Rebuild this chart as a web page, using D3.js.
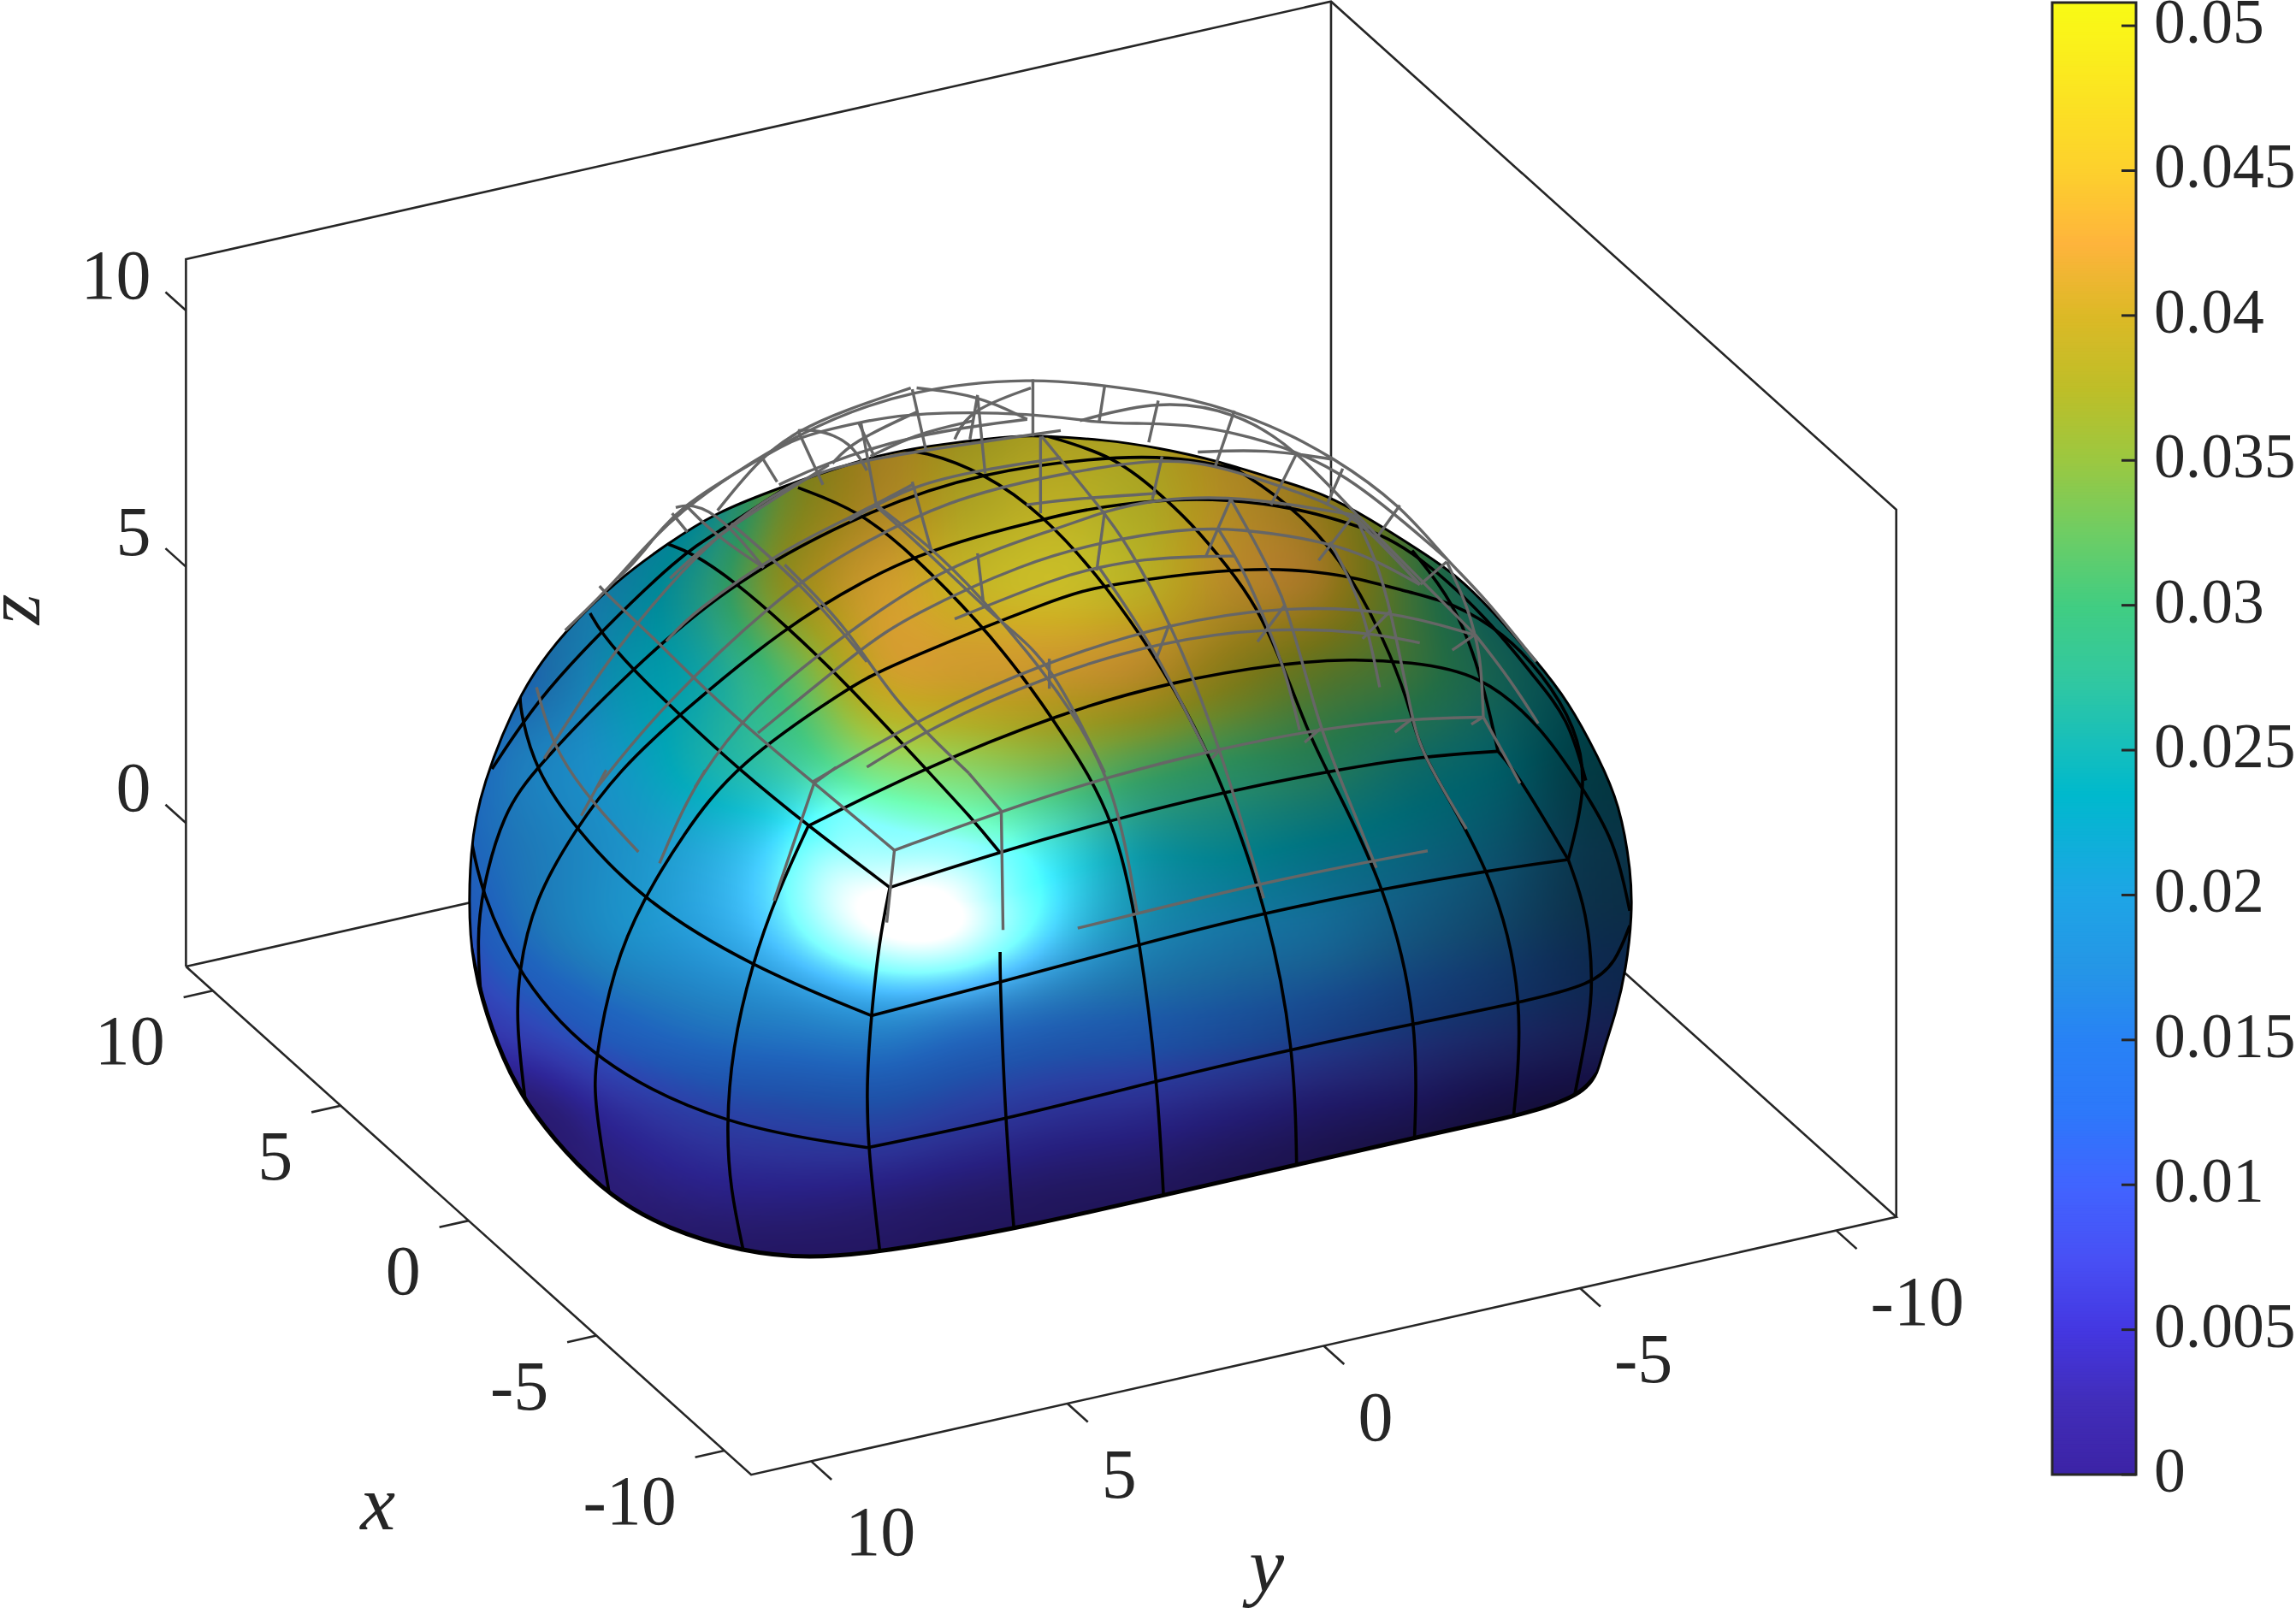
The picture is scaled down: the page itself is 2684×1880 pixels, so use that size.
<!DOCTYPE html>
<html>
<head>
<meta charset="utf-8">
<script src="https://cdn.jsdelivr.net/npm/d3@7"></script>
<style>
body { margin: 0; background: #fff; }
svg { display: block; }
text { font-family: "Liberation Serif", serif; fill: #262626; }
</style>
</head>
<body>
<div class="chart"></div>
<script>
// axis limits and ticks
const xLimits = [-11.05, 11.05];
const yLimits = [-11.17, 11.17];
const zLimits = [-2.8, 11];
const xTicks = [10, 5, 0, -5, -10];
const yTicks = [10, 5, 0, -5, -10];
const zTicks = [10, 5, 0];
const colorbarLimits = [0, 0.0508];
const colorbarTicks = [0, 0.005, 0.01, 0.015, 0.02, 0.025, 0.03, 0.035, 0.04, 0.045, 0.05];
const colorbarLabels = ["0", "0.005", "0.01", "0.015", "0.02", "0.025", "0.03", "0.035", "0.04", "0.045", "0.05"];

// colormap
const colorStops = [0, .0025, .005, .0075, .01, .0125, .015, .0175, .02, .0235, .025, .0275, .03, .0325, .035, .0375, .04, .0425, .045, .0508];
const colorValues = ["#3c23a5", "#412db9", "#4437e1", "#4850f5", "#4164ff", "#2d78fa", "#2882f5", "#2596e6", "#1ea5e6", "#00b9cd", "#14bebe", "#32c8a0", "#41cd82", "#6ecd64", "#9bc841", "#bebe28", "#dcb926", "#feb43c", "#fdd02d", "#f9fb15"];

// surface shading, sampled on a coarse grid of the projected picture
// (all surface positions below are in view units, as read off the 1568x1098 view)
const shadeCols = [300, 360, 420, 480, 540, 600, 660, 720, 780, 840, 900, 960, 1020, 1080, 1140];
const shadeRows = [280, 340, 400, 460, 520, 580, 640, 700, 760, 820, 880];
const surfaceValue = [
  [.021,.021,.021,.027,.036,.041,.0385,.0385,.039,.041,.04,.033,.025,.024,.024],
  [.021,.021,.021,.024,.036,.041,.0385,.0385,.038,.041,.04,.033,.025,.024,.024],
  [.016,.018,.021,.027,.038,.0415,.039,.0385,.0385,.0415,.0415,.033,.025,.024,.024],
  [.014,.016,.022,.025,.032,.0405,.0415,.0415,.0415,.0385,.035,.032,.027,.024,.024],
  [.014,.018,.021,.025,.028,.033,.034,.034,.032,.03,.029,.026,.024,.023,.023],
  [.014,.0175,.02,.021,.022,.025,.027,.025,.024,.024,.023,.022,.021,.02,.02],
  [.0095,.016,.0195,.0195,.02,.021,.021,.021,.0205,.0195,.019,.018,.017,.016,.016],
  [.005,.0095,.014,.0165,.017,.0175,.016,.015,.0145,.014,.013,.012,.011,.01,.01],
  [.001,.001,.006,.0095,.011,.0115,.0095,.0075,.0065,.0055,.0045,.004,.003,.002,.002],
  [0,0,.0015,.0035,.004,.0035,.0025,.002,.0015,.001,.0005,0,0,0,0],
  [0,0,0,0,0,0,0,0,0,0,0,0,0,0,0]
];
const surfaceLight = [
  [.7,.7,.7,.6,.62,.68,.75,.82,.82,.7,.65,.55,.45,.38,.33],
  [.7,.7,.7,.7,.68,.72,.85,.92,.88,.75,.65,.55,.45,.38,.33],
  [.72,.72,.72,.75,.75,.85,.95,1,.92,.75,.65,.55,.45,.38,.33],
  [.72,.72,.8,.85,.9,.88,.85,.82,.75,.65,.58,.55,.48,.38,.33],
  [.75,.82,.87,.9,.95,1,.95,.85,.75,.68,.6,.55,.5,.33,.3],
  [.75,.8,.85,.9,.95,1,1,.95,.75,.68,.62,.57,.48,.33,.3],
  [.72,.78,.85,.9,.93,1,1,.88,.75,.7,.65,.55,.45,.33,.3],
  [.72,.72,.76,.8,.83,.85,.78,.72,.68,.62,.55,.47,.4,.33,.3],
  [.65,.65,.65,.65,.65,.65,.62,.6,.58,.52,.46,.4,.33,.3,.3],
  [.65,.65,.65,.62,.6,.58,.55,.52,.5,.45,.4,.33,.33,.3,.3],
  [.55,.55,.55,.55,.55,.55,.5,.5,.45,.4,.35,.33,.3,.3,.3]
];
// specular spots: centre u, centre v, radius u, radius v, strength
const glareSpots = [
  [628, 626, 64, 36, 0.85],
  [622, 600, 112, 60, 0.36],
  [570, 590, 34, 42, 0.25]
];

const outlinePoints = [
  [320.8,579.5],[320,642],[327.9,682],[343.5,725],[359,754],[385,787],[416.5,817.6],[455.6,840],[507.8,855.6],[552,860],
  [601.7,855.6],[693,840],[794.6,816.7],[885.5,796],[966.5,777.4],[1033.6,763],[1056,756.7],[1074,749.7],[1084,742.8],[1091,733.5],
  [1095,717],[1103.5,692],[1110.5,662],[1114.7,625],[1114,595],[1106,548.8],[1092,518],[1071.3,479],[1048,449.8],[1019,416.7],
  [993,391.4],[969.6,375.9],[935.7,354.4],[904.4,336.9],[870.5,327.2],[831.4,314.5],[792,305.8],[753,300],[711.4,297.6],[693.7,297.6],
  [654.5,301.9],[602.4,308.7],[532,333],[487.6,350.5],[456.3,371],[422.4,395.3],[386,430.4],[356,469.3],[328.5,537.5]
];

const blackLines = [
  [[607.7,606],[600.4,642],[595,693.5],[591.8,738],[592.6,783],[601,855.6]],
  [[552,564],[531.3,608.5],[513,660],[500,716],[496,769.5],[498.7,812],[508,855.6]],
  [[552,564],[627.8,525.8],[724.4,486.8],[800,465.4],[875.7,452.8],[922.7,450],[961.8,451.8],[1011.4,459.6],[1053,496.6],[1079,535.5],[1103,574],[1113,622]],
  [[416.5,817.6],[406,754],[406,725],[419,660],[438.7,615],[466,570.5],[502,522],[580.2,469.3],[602.4,456.7],[724.4,407],[755.8,399.2],[836.6,388.5],[883.6,388.5],[922.7,393.4],[964.4,405],[993,411.9],[1027,432.3],[1053,459.6],[1076.6,496.6],[1084,537],[1071,587]],
  [[359,754],[352.6,700],[354,664.4],[364.4,615],[393,566],[423,525.8],[465,486.8],[537,427.4],[592,395.3],[625.8,379.7],[667.6,366],[706.7,356.4],[735,348.6],[792,340.8],[839,340.8],[883.6,346.6],[922.7,357.4],[961.8,372],[1019,425],[1048,463],[1071,490],[1083,533]],
  [[328.4,680],[325.8,642],[329,608.5],[343.5,555],[366,524],[431.6,456.6],[500.7,396.3],[598.5,345.7],[672.8,322.3],[748,312.6],[792,311.6],[823.6,315.5],[847,321.3]],
  [[336,525],[367.7,477],[409.4,432.3],[464,379.7],[489,364],[537,333]],
  [[607.7,606],[682.5,581.7],[762.5,559],[836.6,540.7],[906.4,526.8],[970,516.5],[1023,513]],
  [[1023,513],[1036,528],[1071,587]],
  [[964.4,375.9],[993,410.9],[1011.4,459.6],[1023,513]],
  [[595,693.5],[683,670.7],[779,644.6],[866,622.7],[946.9,606.5],[1019.6,594],[1071,587]],
  [[592.6,783.6],[686.5,764.4],[790.4,738],[884,716],[968.8,698.5],[1040.6,684],[1087,672.4],[1103.5,657],[1113,632]],
  [[607.7,606],[552,564],[505,525.8],[463,487],[431.5,456.6],[410.7,432.3],[403,418.7]],
  [[595,693.5],[513,660],[438.7,615],[393,566],[365.7,525.8],[356,488.8],[354.6,473],[357,467.4]],
  [[592.6,783.6],[496,769.5],[406,725.9],[354,666.7],[328.4,608.5],[321.3,570.5]],
  [[682.5,581.7],[664,559],[631,523.8],[580.7,469.3],[537,427.4],[500.7,396.3],[473.3,377.8],[456.3,371.6]],
  [[683,650],[683,670.7],[686.5,764],[692.5,840]],
  [[545,333],[586.7,348.6],[624.5,379.7],[670,426.5],[696,458.6],[724.4,498.5],[762.5,559],[779,644.6],[790.4,738],[794.6,816.7]],
  [[608,307],[630.6,307.7],[672.8,323.3],[711.4,350.5],[755.8,399.2],[800,465.4],[823.6,512],[836.6,540.7],[866,622.7],[884,716],[885.5,796]],
  [[716,298],[761,311.6],[789.7,335],[813,356.4],[839,387.5],[857.5,412.8],[875.7,452.8],[892.7,498.5],[906.4,526.8],[947,606.5],[968.8,698.5],[966,777.4]],
  [[831.4,314.5],[847,321.3],[888.8,350.5],[922.7,391.4],[951.4,449.8],[964.4,488.8],[971,517],[1019.6,594],[1041.4,684],[1033.6,763]],
  [[1071,587],[1084,622.7],[1088,671],[1085,699],[1075,749.7]]
];

const grayLines = [
  // front corner and its edges
  [[610.8,580.6],[605.6,630]],
  [[610.8,580.6],[556,534.7],[521.5,506.3],[479.8,469.3],[451,440],[414.6,406],[409.4,400.2]],
  [[610.8,580.6],[683.8,553.8],[761,529],[834,511],[901.8,497.5],[964.4,490.7],[1012.6,489.7]],
  [[683.8,553.8],[684.5,600],[685,635]],
  [[661.7,528],[683.8,553.8]],
  [[556,534.7],[528.6,615]],
  [[556,534.7],[571,524]],
  [[736,633.8],[776.5,623.8],[861.7,603],[938.6,587.6],[975,581]],
  // left side
  [[366.4,469.3],[372,490],[381,515],[403.5,547],[436,581.7]],
  [[481.7,525.8],[466,552.6],[450.4,589.5]],
  [[414,525.8],[397,557]],
  // across the top
  [[592,523.8],[636,496.6],[714.5,461.5],[792,438.2],[865,428.4],[933,431.3],[969.6,439]],
  [[555.4,533.6],[631,488.8],[714.5,451.8],[798.8,425.5],[877,413.8],[950,416.7],[1006,433.3]],
  [[371.6,518],[419.8,442],[487.6,364],[545,327],[586.7,313.5],[724.4,294]],
  [[408,537.5],[451,483],[532,407],[576,377.8],[646.7,340.8],[724.4,323.3],[792,312.6],[831.4,317.4],[889,337],[925,350.5],[969.6,399.2]],
  [[474.6,537.5],[506,488.8],[580,430.4],[646.7,385.6],[724.4,360.3],[755.8,348.6],[789.7,340.8],[839,338.9],[883.6,344.7],[924,351.5]],
  [[517.6,500.5],[589,442],[620.6,420.6],[701,383.6],[753,370],[805.3,361.2],[844.4,360.3],[907,370],[938.3,381.7],[969.6,399.2]],
  [[652,422.6],[724.4,393.4],[750.6,387.5],[779,381.7],[823.6,379.7],[843,379.7]],
  [[580,355.4],[623,331],[672.8,320.4],[724.4,312.6]],
  [[457.6,395],[487.6,366],[566,317.4]],
  [[455,438],[472,418.7],[537,373.9],[579,354.4],[623,331]],
  // cage above the surface
  [[386,430.4],[422.4,395.3],[459,350.5],[545,294],[623,264.9],[706.7,258],[753,263],[815.8,271.7],[868,290],[909.6,311.6],[956.6,344.7],[988,382.7],[1011.4,405],[1049,451.8]],
  [[422,395],[438,379.7],[461.5,346.6],[522,311.6],[545,298],[588,288],[626,281.4],[706.7,282],[750.6,289],[779,289],[818,290.2],[862.7,300],[917.5,320.4],[988,381.7]],
  [[490,348.6],[519,312.6],[545,294],[576,280.4],[622,264.9]],
  [[532,331],[560.6,317.4],[626,296],[701.5,286.3]],
  [[568.5,316.5],[581.5,301.9],[626,281.4]],
  [[594.5,311.6],[626,296],[665,287.3]],
  [[652,300],[661,280.4],[704,264.9]],
  [[461.5,346.6],[472,343.7],[492.8,352.5],[521.5,387.5]],
  [[545,294],[558,293],[581.5,301.9],[592,321.3]],
  [[626,264.9],[667.6,269.7],[701.5,286.3]],
  [[737.5,287.3],[791,272.7],[845,281],[886,307.7],[925,350.5],[1006,432]],
  [[818,308.7],[865,306.7],[910,313.6]],
  [[701,344.7],[729.7,340.8],[789.7,336.9]],
  // cross ties of the cage
  [[545,294],[562,331]],
  [[520,311.6],[530.7,329]],
  [[459,350.5],[469.4,363.2]],
  [[623,265.8],[632.4,307.7]],
  [[667.6,269.7],[662.4,300]],
  [[705.4,259],[705.4,298]],
  [[586.7,289.2],[597,311.6]],
  [[754.5,263],[750.6,288]],
  [[791,273.6],[784.5,302]],
  [[843,280.4],[830,318.4]],
  [[886,308.7],[868,344.7]],
  [[917,320],[906,345]],
  [[956,345],[941,366]],
  [[988,383.6],[970,399]],
  // short tails under the crossings
  [[754.5,348.6],[749,389.5]],
  [[793.6,311.6],[787,340.8]],
  [[840.5,340.8],[823.6,379.7]],
  [[924,352.5],[900.5,382.7]],
  [[798.8,425.5],[789.7,449.8]],
  [[877,413.8],[858.8,438.2]],
  [[950,416.7],[930.5,436.2]],
  [[1007.4,433.3],[991.8,444]],
  [[716.6,449.8],[716.6,470.3]],
  [[964.4,490.7],[952.6,500]],
  [[901.8,497.5],[891,507]],
  [[834,511],[827.5,518]],
  [[1012.6,489.7],[1004.8,494.6]],
  // long lines running down over the top
  [[469,345.7],[489,366],[521.5,387.5]],
  [[499.4,357.4],[550,401],[592,451.8]],
  [[535.9,385.6],[579,428.4],[610,479],[661.7,528]],
  [[598.5,344.7],[633.7,372],[667.6,405],[714.5,459.6],[761,529],[776.5,622.7]],
  [[588,289],[598.5,344.7]],
  [[597,344.7],[628.5,372],[683.2,425.5],[716.6,449.8],[754.5,527.7]],
  [[623,329],[636,375.8]],
  [[667.6,377.8],[671.5,410.9]],
  [[710.6,298],[710.6,350.5]],
  [[667.6,270.7],[672.8,323.3]],
  [[711.4,298],[753,348.6],[768.8,370],[800,425.5],[834,511],[863,613.4]],
  [[750.6,387.5],[787,440],[823.6,513]],
  [[840.5,340.8],[854.9,366],[873,401],[878.3,414.8],[888.8,449.8],[901.8,497.5],[917.5,537.5],[940,592.6]],
  [[831.4,360.3],[849.7,389.5],[865.3,426.5],[878.3,459.6],[887.5,498.5]],
  [[925,351.5],[939.6,381.7],[950,416.7],[964.4,490.7],[970.7,514],[1001.5,566]],
  [[908.3,370],[930.5,410.9],[942.2,469.3]],
  [[924,351.5],[969.6,399]],
  [[988,383.6],[1001,410.9],[1007.4,433.3],[1011.4,451.8],[1013,489.7]],
  [[1013,489.7],[1026.6,514],[1038,534.9]],
  [[1007.4,433.3],[1030,462],[1050.5,494]]
];

const width = 2684, height = 1880;

const svg = d3.select(".chart").append("svg")
  .attr("width", width)
  .attr("height", height);

// view scales
const viewX = d3.scaleLinear().domain([0, 1568]).range([0, width]);
const viewY = d3.scaleLinear().domain([0, 1098]).range([0, height]);

// the box is an orthographic projection, one scale per axis and direction
const xToU = d3.scaleLinear().domain(xLimits).range([386, 0]);
const xToV = d3.scaleLinear().domain(xLimits).range([347, 0]);
const yToU = d3.scaleLinear().domain(yLimits).range([782, 0]);
const yToV = d3.scaleLinear().domain(yLimits).range([-176, 0]);
const zToV = d3.scaleLinear().domain(zLimits).range([0, -483]);
const boxOrigin = [127, 660];

function project(x, y, z) {
  return [
    viewX(boxOrigin[0] + xToU(x) + yToU(y)),
    viewY(boxOrigin[1] + xToV(x) + yToV(y) + zToV(z))
  ];
}

const pathLine = d3.line().x(d => viewX(d[0])).y(d => viewY(d[1])).curve(d3.curveBasis);
const outlineLine = d3.line().x(d => viewX(d[0])).y(d => viewY(d[1])).curve(d3.curveBasisClosed);
const boxLine = d3.line();

const axisColor = "#262626";
const [xMin, xMax] = xLimits, [yMin, yMax] = yLimits, [zMin, zMax] = zLimits;

// box walls, behind the surface
const boxEdges = [
  [[xMax, yMax, zMin], [xMin, yMax, zMin], [xMin, yMin, zMin], [xMax, yMin, zMin], [xMax, yMax, zMin]],
  [[xMax, yMax, zMin], [xMax, yMax, zMax], [xMax, yMin, zMax], [xMin, yMin, zMax], [xMin, yMin, zMin]],
  [[xMax, yMin, zMin], [xMax, yMin, zMax]]
];
svg.append("g").selectAll("path")
  .data(boxEdges)
  .enter()
  .append("path")
  .attr("d", d => boxLine(d.map(p => project(p[0], p[1], p[2]))))
  .attr("fill", "none")
  .attr("stroke", axisColor)
  .attr("stroke-width", 2.6);

// ticks
const tickLines = [
  ...xTicks.map(t => [project(t, yMax, zMin), project(t, yMax + 0.57, zMin)]),
  ...yTicks.map(t => [project(xMin, t, zMin), project(xMin - 0.8, t, zMin)]),
  ...zTicks.map(t => [project(xMax, yMax, t), project(xMax + 0.8, yMax, t)])
];
svg.append("g").selectAll("path")
  .data(tickLines)
  .enter()
  .append("path")
  .attr("d", d => boxLine(d))
  .attr("stroke", axisColor)
  .attr("stroke-width", 2.6);

// tick labels
const tickFont = 82;
const tickText = svg.append("g").attr("font-size", tickFont);
xTicks.forEach(t => {
  const p = project(t, yMax, zMin);
  tickText.append("text").attr("x", p[0] - 56).attr("y", p[1] + 86).attr("text-anchor", "end").text(t);
});
yTicks.forEach(t => {
  const p = project(xMin, t, zMin);
  tickText.append("text").attr("x", p[0] + 40).attr("y", p[1] + 110).text(t);
});
zTicks.forEach(t => {
  const p = project(xMax, yMax, t);
  tickText.append("text").attr("x", p[0] - 41).attr("y", p[1] - 14).attr("text-anchor", "end").text(t);
});

// axis labels
const labelFont = 92;
svg.append("text").attr("x", viewX(258)).attr("y", viewY(1044)).attr("text-anchor", "middle")
  .attr("font-size", labelFont).attr("font-style", "italic").text("x");
svg.append("text").attr("x", viewX(865)).attr("y", viewY(1087)).attr("text-anchor", "middle")
  .attr("font-size", labelFont).attr("font-style", "italic").text("y");
svg.append("text").attr("transform", `translate(${viewX(27)},${viewY(416)}) rotate(-90)`).attr("text-anchor", "middle")
  .attr("font-size", labelFont).attr("font-style", "italic").text("z");

// surface, rendered per pixel from the shading grid
const colorScale = d3.scaleLinear().domain(colorStops).range(colorValues).clamp(true);
const lutSize = 1024;
const lut = d3.range(lutSize).map(i => d3.rgb(colorScale(colorbarLimits[1] * i / (lutSize - 1))));

function cubic(a, b, c, d, t) {
  return b + 0.5 * t * (c - a + t * (2 * a - 5 * b + 4 * c - d + t * (3 * (b - c) + d - a)));
}
function sampleGrid(grid, gx, gy) {
  const nr = grid.length, nc = grid[0].length;
  const cx = Math.max(0, Math.min(nc - 1.001, gx)), cy = Math.max(0, Math.min(nr - 1.001, gy));
  const i = Math.floor(cx), j = Math.floor(cy);
  const rows = [j - 1, j, j + 1, j + 2].map(r => grid[Math.max(0, Math.min(nr - 1, r))]);
  const vals = rows.map(r => cubic(r[Math.max(0, i - 1)], r[i], r[i + 1], r[Math.min(nc - 1, i + 2)], cx - i));
  return cubic(vals[0], vals[1], vals[2], vals[3], cy - j);
}

const colIndex = d3.scaleLinear().domain([shadeCols[0], shadeCols[shadeCols.length - 1]]).range([0, shadeCols.length - 1]);
const rowIndex = d3.scaleLinear().domain([shadeRows[0], shadeRows[shadeRows.length - 1]]).range([0, shadeRows.length - 1]);

const imgLeft = Math.floor(viewX(310)), imgTop = Math.floor(viewY(290));
const imgWidth = Math.ceil(viewX(1125)) - imgLeft, imgHeight = Math.ceil(viewY(870)) - imgTop;
const canvas = document.createElement("canvas");
canvas.width = imgWidth;
canvas.height = imgHeight;
const ctx = canvas.getContext("2d");
const pixels = ctx.createImageData(imgWidth, imgHeight);
for (let py = 0; py < imgHeight; py++) {
  const v = viewY.invert(imgTop + py);
  for (let px = 0; px < imgWidth; px++) {
    const u = viewX.invert(imgLeft + px);
    const gx = colIndex(u), gy = rowIndex(v);
    const val = sampleGrid(surfaceValue, gx, gy);
    const lit = sampleGrid(surfaceLight, gx, gy);
    const c = lut[Math.max(0, Math.min(lutSize - 1, Math.round(val / colorbarLimits[1] * (lutSize - 1))))];
    let glare = 0;
    glareSpots.forEach(s => {
      const du = (u - s[0]) / s[2], dv = (v - s[1]) / s[3];
      glare += s[4] * Math.exp(-(du * du + dv * dv));
    });
    const k = (py * imgWidth + px) * 4;
    pixels.data[k] = c.r * lit + 255 * glare;
    pixels.data[k + 1] = c.g * lit + 255 * glare;
    pixels.data[k + 2] = c.b * lit + 255 * glare;
    pixels.data[k + 3] = 255;
  }
}
ctx.putImageData(pixels, 0, 0);

const outlinePath = outlineLine(outlinePoints);

svg.append("clipPath").attr("id", "surface-clip").append("path").attr("d", outlinePath);
svg.append("image")
  .attr("x", imgLeft).attr("y", imgTop)
  .attr("width", imgWidth).attr("height", imgHeight)
  .attr("href", canvas.toDataURL())
  .attr("clip-path", "url(#surface-clip)");

// black mesh, kept inside the surface
svg.append("g").attr("clip-path", "url(#surface-clip)").selectAll("path")
  .data(blackLines)
  .enter()
  .append("path")
  .attr("d", pathLine)
  .attr("fill", "none")
  .attr("stroke", "#000")
  .attr("stroke-width", 3.6);

svg.append("path")
  .attr("d", outlinePath)
  .attr("fill", "none")
  .attr("stroke", "#000")
  .attr("stroke-width", 3);
// lower rim is heavier, clipped so its ends do not stick out of the outline
svg.append("path")
  .attr("d", pathLine(outlinePoints.slice(1, 20)))
  .attr("fill", "none")
  .attr("stroke", "#000")
  .attr("stroke-width", 7)
  .attr("clip-path", "url(#surface-clip)");

// gray wire mesh on top
svg.append("g").selectAll("path")
  .data(grayLines)
  .enter()
  .append("path")
  .attr("d", pathLine)
  .attr("fill", "none")
  .attr("stroke", "#666")
  .attr("stroke-width", 3.4);

// colorbar
const barLeft = 2399, barRight = 2497, barTop = 3, barBottom = 1724;
const barScale = d3.scaleLinear().domain(colorbarLimits).range([barBottom, barTop]);
const barSteps = d3.range(0, 512);
svg.append("g").selectAll("rect")
  .data(barSteps)
  .enter()
  .append("rect")
  .attr("x", barLeft)
  .attr("width", barRight - barLeft)
  .attr("y", d => barScale(colorbarLimits[1] * (d + 1) / 512))
  .attr("height", (barBottom - barTop) / 512 + 1)
  .attr("fill", d => colorScale(colorbarLimits[1] * (d + 0.5) / 512));
svg.append("rect")
  .attr("x", barLeft).attr("y", barTop)
  .attr("width", barRight - barLeft).attr("height", barBottom - barTop)
  .attr("fill", "none").attr("stroke", axisColor).attr("stroke-width", 3);
svg.append("g").selectAll("line")
  .data(colorbarTicks)
  .enter()
  .append("line")
  .attr("x1", barRight - 17).attr("x2", barRight)
  .attr("y1", d => barScale(d)).attr("y2", d => barScale(d))
  .attr("stroke", axisColor).attr("stroke-width", 3);
svg.append("g").attr("font-size", 73.5).selectAll("text")
  .data(colorbarTicks)
  .enter()
  .append("text")
  .attr("x", 2518)
  .attr("y", d => barScale(d) + 20)
  .text((d, i) => colorbarLabels[i]);
</script>
</body>
</html>
